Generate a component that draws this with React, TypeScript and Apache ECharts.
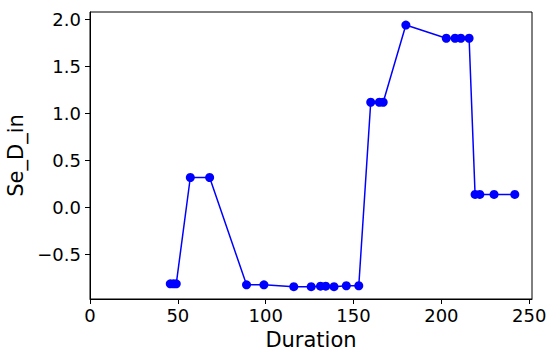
import React, { useEffect, useRef } from "react";
import * as echarts from "echarts";

const durations = [45.7, 47.5, 49.1, 57.1, 68.1, 89.1, 99.0, 116.0, 125.9, 131.2, 134.2, 138.9, 145.9, 153.0, 159.8, 164.7, 166.9, 179.8, 202.8, 207.8, 211.1, 215.8, 219.2, 221.9, 230.0, 241.8];
const values = [-0.81, -0.81, -0.81, 0.32, 0.32, -0.82, -0.82, -0.84, -0.84, -0.835, -0.835, -0.84, -0.83, -0.83, 1.12, 1.12, 1.12, 1.94, 1.80, 1.80, 1.80, 1.80, 0.14, 0.14, 0.14, 0.14];
const xTicks = [0, 50, 100, 150, 200, 250];
const yTicks = [-0.5, 0, 0.5, 1.0, 1.5, 2.0];

const FONT = "DejaVu Sans";

export default function App() {
  const ref = useRef<HTMLDivElement>(null);
  useEffect(() => {
    if (!ref.current) return;
    const chart = echarts.init(ref.current, null, { renderer: "svg" });
    chart.setOption({
      animation: false,
      backgroundColor: "#fff",
      grid: {
        left: 90,
        top: 12,
        width: 442,
        height: 287,
        show: true,
        borderColor: "#000",
        borderWidth: 1,
        containLabel: false,
        outerBoundsMode: "none",
      },
      xAxis: {
        type: "value",
        min: 0,
        max: 251.6,
        name: "Duration",
        nameLocation: "middle",
        nameGap: 30,
        nameTextStyle: { fontFamily: FONT, fontSize: 21, color: "#000" },
        splitLine: { show: false },
        axisLine: { show: true, onZero: false, lineStyle: { color: "#000", width: 1 } },
        axisTick: { show: true, length: 5, customValues: xTicks, lineStyle: { color: "#000" } },
        axisLabel: {
          customValues: xTicks,
          fontFamily: FONT,
          fontSize: 18,
          color: "#000",
          margin: 7,
          formatter: (v: number) => String(v),
        },
      },
      yAxis: {
        type: "value",
        min: -0.971,
        max: 2.079,
        name: "Se_D_in",
        nameLocation: "middle",
        nameRotate: 90,
        nameGap: 62,
        nameTextStyle: { fontFamily: FONT, fontSize: 21, color: "#000" },
        splitLine: { show: false },
        axisLine: { show: true, onZero: false, lineStyle: { color: "#000", width: 1 } },
        axisTick: { show: true, length: 5, customValues: yTicks, lineStyle: { color: "#000" } },
        axisLabel: {
          customValues: yTicks,
          fontFamily: FONT,
          fontSize: 18,
          color: "#000",
          margin: 9,
          formatter: (v: number) => v.toFixed(1).replace("-", "\u2212"),
        },
      },
      series: [
        {
          type: "line",
          data: durations.map((d, i) => [d, values[i]]),
          symbol: "circle",
          symbolSize: 9,
          showAllSymbol: true,
          lineStyle: { color: "#0000ff", width: 1.5 },
          itemStyle: { color: "#0000ff" },
        },
      ],
    });
    return () => chart.dispose();
  }, []);
  return <div ref={ref} style={{ width: 550, height: 358, position: "absolute", left: 0, top: 0 }} />;
}
